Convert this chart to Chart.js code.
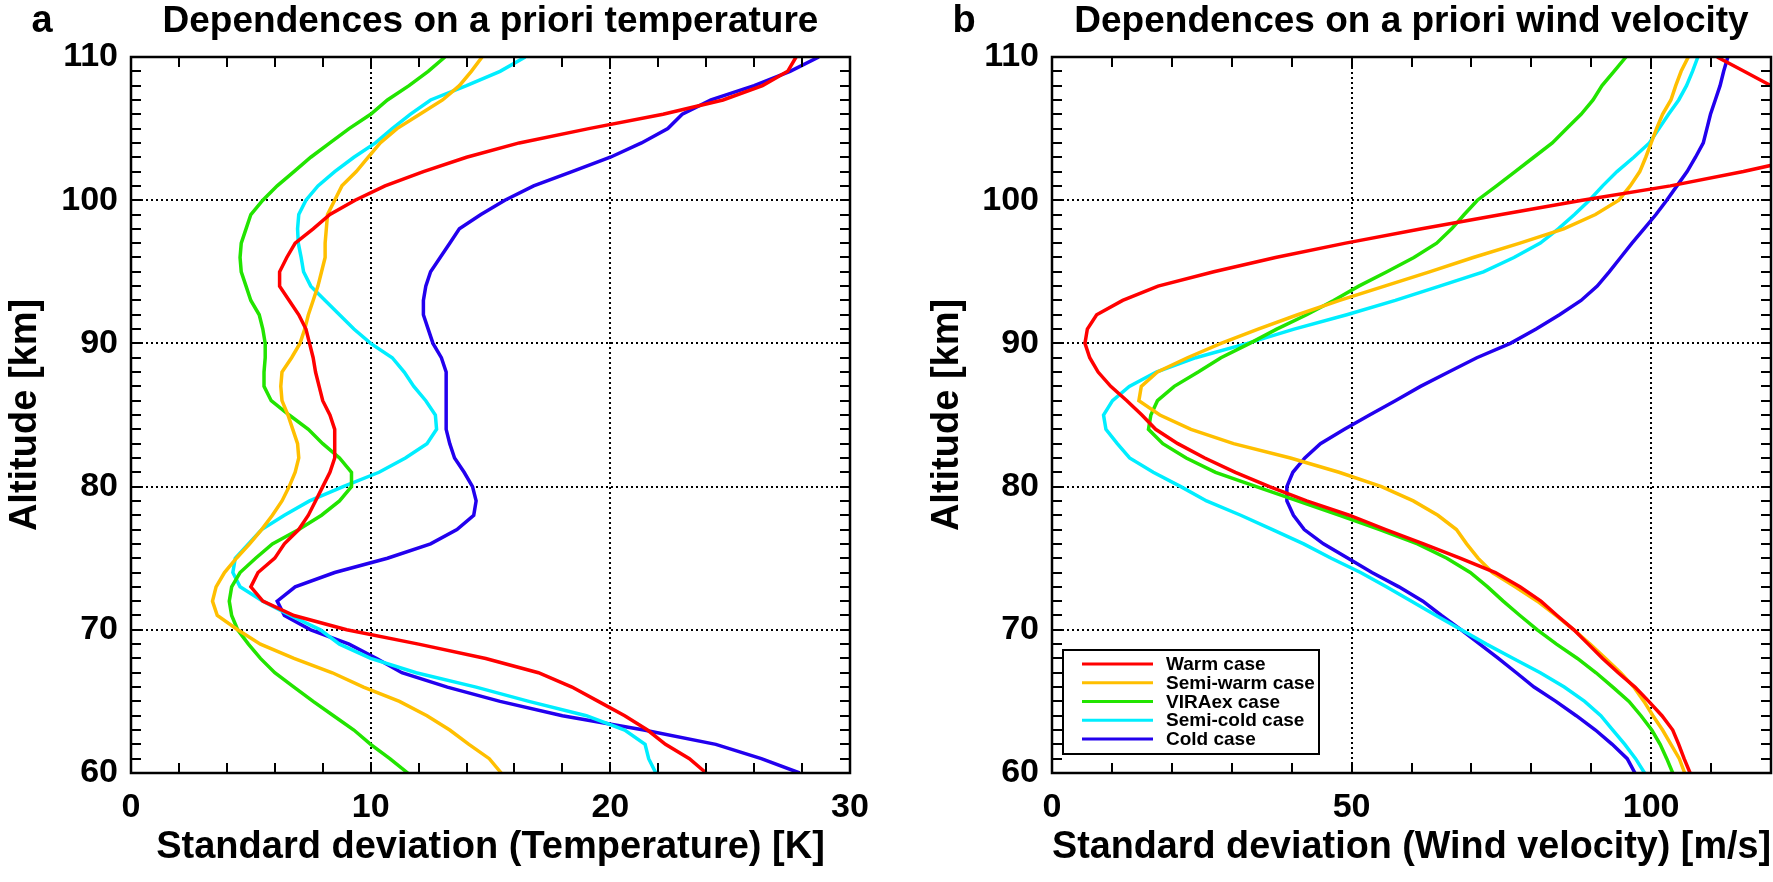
<!DOCTYPE html>
<html>
<head>
<meta charset="utf-8">
<script src="https://cdn.jsdelivr.net/npm/chart.js@4.4.1/dist/chart.umd.min.js"></script>
<style>
    body { margin: 0; background: #fff; }
    #wrap { position: relative; width: 1773px; height: 882px; background: #fff; }
    canvas { position: absolute; top: 0; }
</style>
</head>
<body>
<div id="wrap">
    <canvas id="graficoTemp" width="900" height="882" style="left:0px"></canvas>
    <canvas id="graficoWind" width="873" height="882" style="left:900px"></canvas>
</div>
<script>
//DATA
const altitude = [60, 61, 62, 63, 64, 65, 66, 67, 68, 69,
    70, 71, 72, 73, 74, 75, 76, 77, 78, 79,
    80, 81, 82, 83, 84, 85, 86, 87, 88, 89,
    90, 91, 92, 93, 94, 95, 96, 97, 98, 99,
    100, 101, 102, 103, 104, 105, 106, 107, 108, 109, 110];

const caseNames = ['Warm case', 'Semi-warm case', 'VIRAex case', 'Semi-cold case', 'Cold case'];
const caseColors = ['#ff0000', '#ffbf00', '#22e400', '#00eeff', '#2200ee'];

const altTicks = [60, 70, 80, 90, 100, 110];
const tempTicks = [0, 10, 20, 30];
const windTicks = [0, 50, 100];

// temperature std dev [K]
const tempWarm = [24.0, 23.3, 22.3, 21.55, 20.6, 19.5, 18.4, 17.0, 14.8, 12.0,
    9.0, 6.8, 5.5, 5.0, 5.3, 6.0, 6.4, 7.0, 7.4, 7.7,
    8.0, 8.3, 8.5, 8.5, 8.5, 8.3, 8.0, 7.85, 7.7, 7.6,
    7.45, 7.3, 7.0, 6.6, 6.2, 6.2, 6.5, 6.85, 7.6, 8.3,
    9.35, 10.6, 12.2, 14.0, 16.2, 19.1, 22.2, 24.7, 26.35, 27.4, 27.75];
const tempSemiWarm = [15.45, 14.95, 14.1, 13.3, 12.35, 11.2, 9.7, 8.4, 6.8, 5.4,
    4.45, 3.6, 3.4, 3.55, 3.9, 4.4, 4.95, 5.45, 5.9, 6.3,
    6.6, 6.85, 7.0, 6.95, 6.75, 6.55, 6.3, 6.25, 6.3, 6.7,
    7.05, 7.25, 7.4, 7.6, 7.8, 7.95, 8.1, 8.1, 8.15, 8.2,
    8.5, 8.8, 9.4, 9.9, 10.4, 11.1, 12.05, 13.0, 13.7, 14.2, 14.65];
const tempViraex = [11.55, 10.8, 10.0, 9.3, 8.45, 7.6, 6.8, 6.0, 5.4, 4.9,
    4.45, 4.2, 4.1, 4.2, 4.55, 5.2, 5.9, 7.0, 7.95, 8.7,
    9.2, 9.2, 8.7, 8.0, 7.4, 6.6, 5.85, 5.55, 5.55, 5.6,
    5.6, 5.5, 5.35, 5.0, 4.8, 4.6, 4.55, 4.6, 4.8, 5.0,
    5.5, 6.1, 6.8, 7.5, 8.3, 9.1, 10.0, 10.7, 11.6, 12.4, 13.1];
const tempSemiCold = [21.9, 21.6, 21.45, 20.6, 19.0, 16.6, 14.4, 11.9, 10.0, 8.7,
    7.9, 6.65, 5.5, 4.55, 4.25, 4.35, 4.9, 5.45, 6.4, 7.45,
    8.85, 10.35, 11.45, 12.35, 12.75, 12.7, 12.3, 11.8, 11.4, 10.9,
    10.0, 9.3, 8.7, 8.1, 7.5, 7.2, 7.1, 6.98, 6.95, 7.0,
    7.3, 7.8, 8.5, 9.3, 10.2, 10.9, 11.65, 12.5, 14.0, 15.4, 16.45];
const tempCold = [27.9, 26.3, 24.4, 21.4, 18.0, 15.4, 13.2, 11.3, 10.25, 9.1,
    7.5, 6.4, 6.1, 6.85, 8.5, 10.7, 12.5, 13.6, 14.3, 14.4,
    14.25, 13.9, 13.5, 13.3, 13.15, 13.15, 13.15, 13.15, 13.15, 12.95,
    12.6, 12.4, 12.2, 12.2, 12.3, 12.5, 12.9, 13.3, 13.7, 14.6,
    15.6, 16.8, 18.4, 20.0, 21.3, 22.4, 23.0, 24.2, 26.0, 27.5, 28.7];

// wind velocity std dev [m/s]
const windWarm = [106.5, 105.5, 104.6, 103.6, 101.8, 99.6, 97.3, 94.5, 91.9, 89.5,
    87.1, 84.3, 81.6, 78.1, 74.0, 68.1, 62.0, 55.7, 49.6, 42.5,
    36.3, 30.6, 25.5, 21.0, 17.3, 15.0, 12.5, 9.8, 7.7, 6.3,
    5.5, 5.9, 7.45, 11.8, 17.7, 27.0, 37.3, 49.0, 61.7, 75.0,
    88.5, 103.2, 115.4, 126, 131, 133, 131, 126, 120, 115.5, 111];
const windSemiWarm = [105.6, 104.7, 103.3, 101.9, 100.3, 98.8, 97.1, 94.9, 92.4, 89.8,
    87.1, 84.1, 81.0, 77.3, 73.5, 71.1, 69.2, 67.5, 64.4, 60.3,
    55.0, 47.9, 39.8, 30.3, 23.2, 18.0, 14.5, 14.9, 17.6, 22.6,
    28.2, 34.4, 41.0, 48.0, 55.5, 63.0, 70.3, 78.1, 85.4, 90.7,
    94.6, 96.5, 98.1, 99.1, 100.0, 100.9, 101.9, 103.3, 104.1, 105.0, 106.2];
const windViraex = [103.6, 102.6, 101.5, 100.1, 98.3, 96.3, 93.6, 90.8, 87.7, 84.2,
    81.0, 78.1, 75.3, 72.7, 69.8, 65.9, 61.0, 54.7, 48.0, 41.0,
    34.1, 27.3, 22.4, 18.5, 16.1, 16.5, 17.6, 20.4, 24.4, 28.2,
    33.0, 37.5, 42.5, 47.0, 51.2, 55.9, 60.4, 64.2, 66.7, 68.8,
    71.0, 74.2, 77.3, 80.4, 83.5, 85.9, 88.3, 90.3, 91.8, 93.8, 95.8];
const windSemiCold = [98.9, 97.4, 95.6, 93.6, 91.6, 88.9, 85.5, 81.5, 77.0, 72.5,
    68.3, 64.1, 60.0, 55.8, 51.5, 46.6, 42.0, 36.8, 31.5, 25.8,
    21.5, 16.9, 12.95, 10.9, 9.0, 8.6, 10.1, 12.9, 17.4, 24.0,
    32.6, 40.4, 49.2, 57.3, 64.7, 72.0, 77.1, 81.5, 84.5, 87.2,
    89.7, 91.9, 94.3, 97.1, 99.7, 101.3, 102.9, 104.6, 105.9, 106.9, 107.8];
const windCold = [97.3, 96.0, 93.5, 90.7, 87.5, 84.1, 80.45, 77.5, 74.5, 71.4,
    68.3, 65.0, 61.9, 57.9, 53.4, 49.4, 45.3, 42.1, 40.3, 39.2,
    39.2, 40.2, 42.2, 44.8, 48.8, 53.0, 57.3, 61.5, 66.2, 70.9,
    76.5, 80.8, 84.7, 88.3, 91.0, 93.0, 94.9, 96.8, 98.8, 100.8,
    102.6, 104.3, 106.0, 107.4, 108.7, 109.3, 109.9, 110.7, 111.5, 112.1, 112.8];


//GENERAL FUNCTIONS
const fontFamily = "'Liberation Sans', Arial, Helvetica, sans-serif";

function makeDatasets(series) {
    return series.map((values, i) => ({
        label: caseNames[i],
        data: values.map((v, k) => ({ x: v, y: altitude[k] })),
        borderColor: caseColors[i],
        backgroundColor: caseColors[i],
        borderWidth: 3.5,
        pointRadius: 0,
        showLine: true,
        tension: 0
    }));
}

function innerGrid(c) {
    if (!c.tick) return 'rgba(0,0,0,0)';
    let v = c.tick.value;
    return (v > c.scale.min && v < c.scale.max) ? '#000' : 'rgba(0,0,0,0)';
}

// frame, inner minor ticks, panel letter and boxed legend
const framePlugin = {
    id: 'frame',
    afterDatasetsDraw(chart, args, opts) {
        const { ctx, chartArea: a, scales } = chart;
        ctx.save();
        ctx.strokeStyle = '#000';
        ctx.lineWidth = 2;
        ctx.beginPath();
        for (let v = scales.y.min; v <= scales.y.max; v += opts.yStep) {
            let py = Math.round(scales.y.getPixelForValue(v));
            ctx.moveTo(a.left, py); ctx.lineTo(a.left + 10, py);
            ctx.moveTo(a.right, py); ctx.lineTo(a.right - 10, py);
        }
        for (let v = scales.x.min; v <= scales.x.max; v += opts.xStep) {
            let px = Math.round(scales.x.getPixelForValue(v));
            ctx.moveTo(px, a.top); ctx.lineTo(px, a.top + 10);
            ctx.moveTo(px, a.bottom); ctx.lineTo(px, a.bottom - 10);
        }
        ctx.stroke();
        ctx.lineWidth = 2.5;
        ctx.strokeRect(a.left, a.top, a.right - a.left, a.bottom - a.top);

        ctx.fillStyle = '#000';
        ctx.font = 'bold 38px ' + fontFamily;
        ctx.textAlign = 'center';
        ctx.textBaseline = 'middle';
        ctx.fillText(opts.letter, opts.letterX, 22);

        if (opts.legend) {
            let bx = a.left + 11, by = a.bottom - 123, bw = 256, bh = 104;
            ctx.fillStyle = '#fff';
            ctx.fillRect(bx, by, bw, bh);
            ctx.lineWidth = 2;
            ctx.strokeStyle = '#000';
            ctx.strokeRect(bx, by, bw, bh);
            ctx.font = 'bold 19px ' + fontFamily;
            ctx.textAlign = 'left';
            chart.data.datasets.forEach((ds, i) => {
                let ry = by + 14 + i * 18.75;
                ctx.strokeStyle = ds.borderColor;
                ctx.lineWidth = 3;
                ctx.beginPath();
                ctx.moveTo(bx + 19, ry); ctx.lineTo(bx + 90, ry);
                ctx.stroke();
                ctx.fillStyle = '#000';
                ctx.fillText(ds.label, bx + 103, ry + 1);
            });
        }
        ctx.restore();
    }
};

function makeChart(canvas, cfg) {
    return new Chart(canvas, {
        type: 'scatter',
        data: { datasets: makeDatasets(cfg.series) },
        plugins: [framePlugin],
        options: {
            responsive: false,
            animation: false,
            devicePixelRatio: 1,
            layout: { padding: { left: 0, right: cfg.padRight, top: 0, bottom: 0 } },
            plugins: {
                legend: { display: false },
                tooltip: { enabled: false },
                title: {
                    display: true,
                    text: cfg.title,
                    fullSize: false,
                    color: '#000',
                    font: { family: fontFamily, size: 37, weight: 'bold' },
                    padding: { top: 0, bottom: 12.6 }
                },
                frame: { xStep: cfg.xStep, yStep: 1, letter: cfg.letter, letterX: cfg.letterX, legend: cfg.legend }
            },
            scales: {
                x: {
                    type: 'linear',
                    min: cfg.xMin,
                    max: cfg.xMax,
                    afterBuildTicks: s => { s.ticks = cfg.xTicks.map(v => ({ value: v })); },
                    afterFit: s => { s.height = 109; },
                    grid: { drawTicks: false, lineWidth: 2, color: innerGrid },
                    border: { display: false, dash: [2, 3] },
                    ticks: { padding: 14, maxRotation: 0, color: '#000', font: { family: fontFamily, size: 34, weight: 'bold' } },
                    title: {
                        display: true,
                        text: cfg.xTitle,
                        color: '#000',
                        font: { family: fontFamily, size: 38, weight: 'bold' },
                        padding: { top: 0, bottom: 12 }
                    }
                },
                y: {
                    type: 'linear',
                    min: 60,
                    max: 110,
                    afterBuildTicks: s => { s.ticks = altTicks.map(v => ({ value: v })); },
                    afterFit: s => { s.width = cfg.yWidth; },
                    grid: { drawTicks: false, lineWidth: 2, color: innerGrid },
                    border: { display: false, dash: [2, 3] },
                    ticks: { padding: 13, color: '#000', font: { family: fontFamily, size: 34, weight: 'bold' } },
                    title: {
                        display: true,
                        text: 'Altitude [km]',
                        color: '#000',
                        font: { family: fontFamily, size: 38, weight: 'bold' },
                        padding: { top: cfg.yTitlePad, bottom: 0 }
                    }
                }
            }
        }
    });
}


//TEMPERATURE
const graphicTemp = document.getElementById('graficoTemp');
const chartTemp = makeChart(graphicTemp, {
    series: [tempWarm, tempSemiWarm, tempViraex, tempSemiCold, tempCold],
    title: 'Dependences on a priori temperature',
    xTitle: 'Standard deviation (Temperature) [K]',
    xMin: 0, xMax: 30, xTicks: tempTicks, xStep: 2,
    yWidth: 131, yTitlePad: 3, padRight: 50,
    letter: 'a', letterX: 42, legend: false
});


//WIND
const graphicWind = document.getElementById('graficoWind');
const chartWind = makeChart(graphicWind, {
    series: [windWarm, windSemiWarm, windViraex, windSemiCold, windCold],
    title: 'Dependences on a priori wind velocity',
    xTitle: 'Standard deviation (Wind velocity) [m/s]',
    xMin: 0, xMax: 120, xTicks: windTicks, xStep: 10,
    yWidth: 152, yTitlePad: 25, padRight: 2,
    letter: 'b', letterX: 64, legend: true
});
</script>
</body>
</html>
